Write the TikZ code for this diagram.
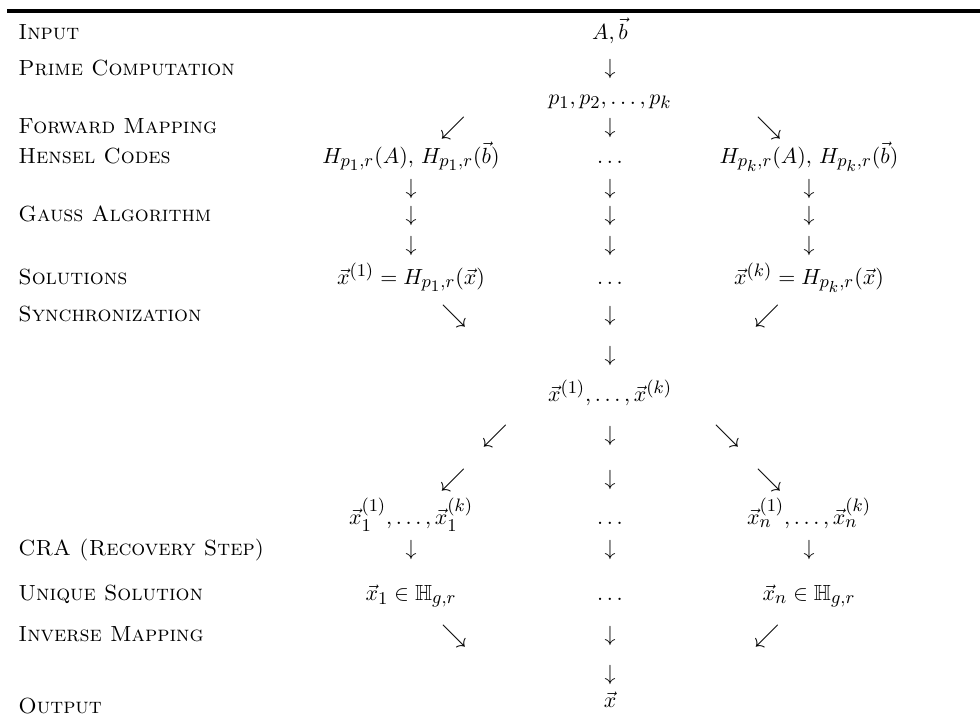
\documentclass[tikz,border=0pt]{standalone}
\usepackage{amssymb}
\usepackage{graphicx}
\DeclareMathSizes{10.95}{10.95}{9}{8}
\newcommand{\dsw}{\scalebox{1.15}{$\swarrow$}}
\newcommand{\dse}{\scalebox{1.15}{$\searrow$}}
\begin{document}
\begin{tikzpicture}[x=0.5pt,y=-0.5pt,
  font=\fontsize{10.95}{13}\selectfont,
  lab/.style={anchor=base west,inner sep=0pt,font=\fontsize{10.95}{13}\selectfont\scshape},
  m/.style={anchor=base,inner sep=0pt}]
\useasboundingbox (0,0) rectangle (980,720);
\draw[line width=1.6pt] (7,11) -- (980,11);
% labels
\node[lab] (lInput) at (18,39) {Input};
\node[lab] (lPrime) at (18,75) {Prime Computation};
\node[lab] (lFwd) at (18,133) {Forward Mapping};
\node[lab] (lHensel) at (18,163) {Hensel Codes};
\node[lab] (lGauss) at (18,221) {Gauss Algorithm};
\node[lab] (lSol) at (18,284) {Solutions};
\node[lab] (lSync) at (18,321) {Synchronization};
\node[lab] (lCRA) at (18,555) {CRA (Recovery Step)};
\node[lab] (lUnique) at (18,600) {Unique Solution};
\node[lab] (lInv) at (18,641) {Inverse Mapping};
\node[lab] (lOut) at (18,713) {Output};
% input
\node[m] (in) at (610,39) {$A,\vec{b}$};
\node[m] (a1) at (610,74) {$\downarrow$};
\node[m] (primes) at (610,104) {$p_1,p_2,\ldots,p_k$};
% forward
\node[m] (f1) at (453,134) {\dsw};
\node[m] (f2) at (610,133) {$\downarrow$};
\node[m] (f3) at (769,134) {\dse};
% hensel
\node[m] (h1) at (411,163) {$H_{p_1,r}(A),\,H_{p_1,r}(\vec{b})$};
\node[m] (h2) at (610,163) {$\ldots$};
\node[m] (h3) at (809,163) {$H_{p_k,r}(A),\,H_{p_k,r}(\vec{b})$};
% gauss arrows
\node[m] (g11) at (411,194) {$\downarrow$};
\node[m] (g12) at (610,194) {$\downarrow$};
\node[m] (g13) at (809,194) {$\downarrow$};
\node[m] (g21) at (411,221) {$\downarrow$};
\node[m] (g22) at (610,221) {$\downarrow$};
\node[m] (g23) at (809,221) {$\downarrow$};
\node[m] (g31) at (411,251) {$\downarrow$};
\node[m] (g32) at (610,251) {$\downarrow$};
\node[m] (g33) at (809,251) {$\downarrow$};
% solutions
\node[m] (s1) at (411,284) {$\vec{x}^{(1)}=H_{p_1,r}(\vec{x})$};
\node[m] (s2) at (610,284) {$\ldots$};
\node[m] (s3) at (809,284) {$\vec{x}^{(k)}=H_{p_k,r}(\vec{x})$};
% sync
\node[m] (y1) at (454,322) {\dse};
\node[m] (y2) at (610,321) {$\downarrow$};
\node[m] (y3) at (767,322) {\dsw};
\node[m] (y4) at (610,361) {$\downarrow$};
\node[m] (xs) at (610,401) {$\vec{x}^{(1)},\ldots,\vec{x}^{(k)}$};
\node[m] (d1) at (495,442) {\dsw};
\node[m] (d2) at (610,441) {$\downarrow$};
\node[m] (d3) at (727,442) {\dse};
\node[m] (e1) at (453,486) {\dsw};
\node[m] (e2) at (610,485) {$\downarrow$};
\node[m] (e3) at (769,486) {\dse};
% components
\node[m] (c1) at (411,524) {$\vec{x}_1^{(1)},\ldots,\vec{x}_1^{(k)}$};
\node[m] (c2) at (610,524) {$\ldots$};
\node[m] (c3) at (809,524) {$\vec{x}_n^{(1)},\ldots,\vec{x}_n^{(k)}$};
% CRA
\node[m] (r1) at (411,555) {$\downarrow$};
\node[m] (r2) at (610,555) {$\downarrow$};
\node[m] (r3) at (809,555) {$\downarrow$};
% unique
\node[m] (u1) at (411,600) {$\vec{x}_1\in\mathbb{H}_{g,r}$};
\node[m] (u2) at (610,600) {$\ldots$};
\node[m] (u3) at (809,600) {$\vec{x}_n\in\mathbb{H}_{g,r}$};
% inverse
\node[m] (i1) at (454,642) {\dse};
\node[m] (i2) at (610,641) {$\downarrow$};
\node[m] (i3) at (767,642) {\dsw};
\node[m] (o1) at (610,680) {$\downarrow$};
\node[m] (out) at (610,707) {$\vec{x}$};
\end{tikzpicture}
\end{document}
